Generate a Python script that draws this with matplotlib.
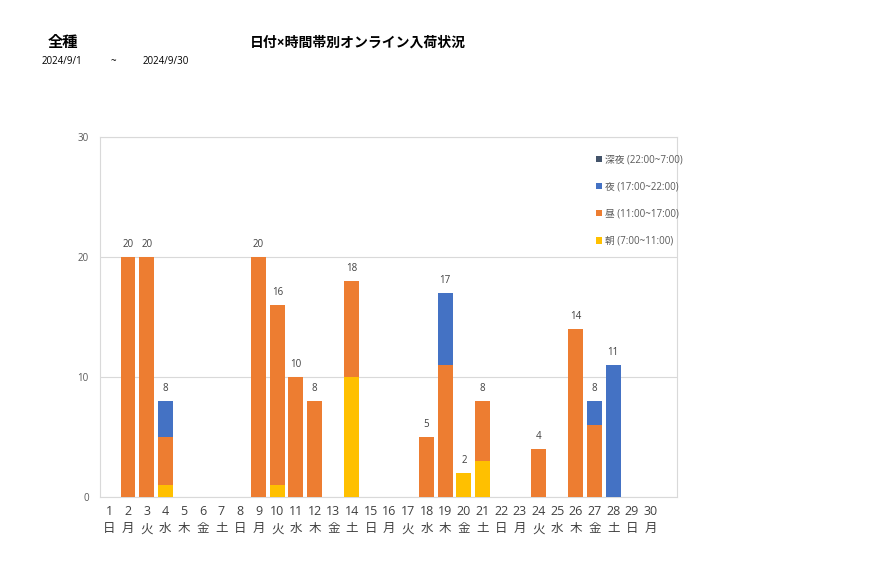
import numpy as np
import matplotlib
matplotlib.use("Agg")
import matplotlib.pyplot as plt

plt.rcParams['font.family'] = ['Open Sans', 'Noto Sans CJK JP', 'DejaVu Sans']

# 9月の日付と曜日
days = [str(d) for d in range(1, 31)]
weekdays = ["日", "月", "火", "水", "木", "金", "土"] * 5
weekdays = weekdays[:30]

# 時間帯別の入荷数（日付順）
asa = [0, 0, 0, 1, 0, 0, 0, 0, 0, 1, 0, 0, 0, 10, 0, 0, 0, 0, 0, 2, 3, 0, 0, 0, 0, 0, 0, 0, 0, 0]
hiru = [0, 20, 20, 4, 0, 0, 0, 0, 20, 15, 10, 8, 0, 8, 0, 0, 0, 5, 11, 0, 5, 0, 0, 4, 0, 14, 6, 0, 0, 0]
yoru = [0, 0, 0, 3, 0, 0, 0, 0, 0, 0, 0, 0, 0, 0, 0, 0, 0, 0, 6, 0, 0, 0, 0, 0, 0, 0, 2, 11, 0, 0]
shinya = [0] * 30

labels = ["朝 (7:00~11:00)", "昼 (11:00~17:00)", "夜 (17:00~22:00)", "深夜 (22:00~7:00)"]
colors = ["#FFC000", "#ED7D31", "#4472C4", "#44546A"]

fig = plt.figure(figsize=(8.77, 5.78), dpi=100)
ax = fig.add_axes([0.114, 0.140, 0.658, 0.623])

x = np.arange(30)
bottom = np.zeros(30)
handles = []
for vals, lab, col in zip([asa, hiru, yoru, shinya], labels, colors):
    vals = np.array(vals)
    b = ax.bar(x, vals, 0.8, bottom=bottom, color=col, label=lab, zorder=3)
    handles.append(b)
    bottom = bottom + vals

for i, tot in enumerate(bottom):
    if tot > 0:
        ax.text(i, tot + 0.6, str(int(tot)), ha='center', va='bottom', fontsize=7, color='#404040')

ax.set_xlim(-0.5, 30.42)
ax.set_ylim(0, 30)
ax.set_yticks([0, 10, 20, 30])
ax.tick_params(axis='y', labelsize=7, labelcolor='#595959', length=0, pad=8)
ax.set_xticks(x)
ax.set_xticklabels([d + "\n" + w for d, w in zip(days, weekdays)], fontsize=9, color='#404040', linespacing=1.4)
ax.tick_params(axis='x', length=0, pad=6)
ax.grid(axis='y', color='#D9D9D9', linewidth=0.8, zorder=0)
for s in ax.spines.values():
    s.set_color('#D9D9D9')
    s.set_linewidth(0.8)

ax.legend(handles[::-1], labels[::-1], loc='upper left', bbox_to_anchor=(0.845, 0.975),
          frameon=False, fontsize=7, handlelength=0.6, handleheight=0.6,
          handletextpad=0.3, labelspacing=1.65, labelcolor='#595959')

fig.text(63 / 877, 1 - 43 / 578, "全種", fontsize=11, fontweight='bold', ha='center', va='center')
fig.text(250 / 877, 1 - 43 / 578, "日付×時間帯別オンライン入荷状況", fontsize=10, fontweight='bold', ha='left', va='center')
fig.text(42 / 877, 1 - 62 / 578, "2024/9/1", fontsize=7, ha='left', va='center')
fig.text(113 / 877, 1 - 62 / 578, "~", fontsize=7, ha='center', va='center')
fig.text(143 / 877, 1 - 62 / 578, "2024/9/30", fontsize=7, ha='left', va='center')

fig.savefig("out.png", dpi=100)
